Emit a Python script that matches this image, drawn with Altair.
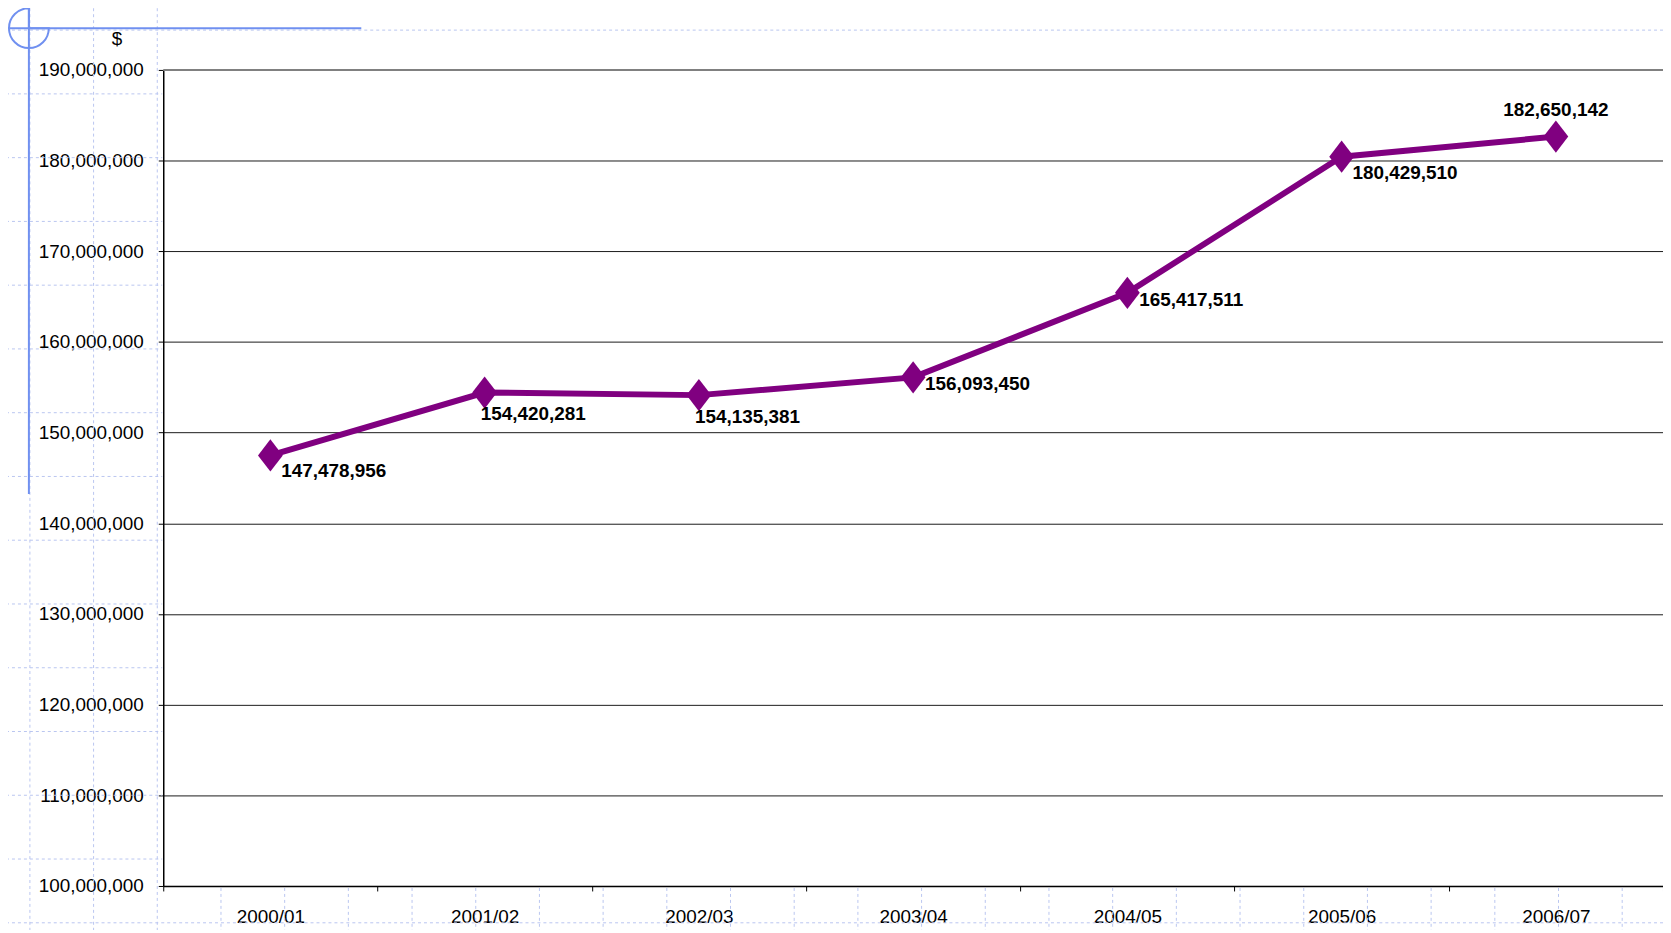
import altair as alt
import pandas as pd

# ---- data ----
years = ["2000/01", "2001/02", "2002/03", "2003/04", "2004/05", "2005/06", "2006/07"]
values = [147478956, 154420281, 154135381, 156093450, 165417511, 180429510, 182650142]
y_ticks = [100000000, 110000000, 120000000, 130000000, 140000000,
           150000000, 160000000, 170000000, 180000000, 190000000]
y_title = "$"

# ---- layout ----
W, H = 1507, 820          # plot area
PAD_L, PAD_T = 156, 60    # page origin of plot = (164, 68)
PAD_B = 42
PURPLE = "#800080"
FONT = "Liberation Sans"
FS = 19
GRIDBG = "#b9c6f0"
CROSS = "#7090f0"

df = pd.DataFrame({"year": years, "value": values})

# decorative slide background (dashed squared paper), in pixel coordinates of the view
segs = []
page_x = [30 + 64 * k for k in range(26)]
page_y = [28 + 64.07 * j for j in range(15)]
for px in page_x:
    vx = px - (PAD_L + 8)
    if vx < 0:
        segs.append({"x": vx, "x2": vx, "y": -68, "y2": 875})
    else:
        segs.append({"x": vx, "x2": vx, "y": H + 2, "y2": 875})
for py in page_y:
    vy = py - (PAD_T + 8)
    if vy < 0 or vy > H:
        segs.append({"x": -164, "x2": W + 10, "y": vy, "y2": vy})
    else:
        segs.append({"x": -164, "x2": -1, "y": vy, "y2": vy})
bg = alt.Chart(alt.Data(values=segs)).mark_rule(
    color=GRIDBG, strokeWidth=1, strokeDash=[3, 3]
).encode(
    x=alt.X("x:Q", scale=None), x2="x2:Q",
    y=alt.Y("y:Q", scale=None), y2="y2:Q",
)

one = alt.Data(values=[{"a": 1}])
cross_h = alt.Chart(one).mark_rule(color=CROSS, strokeWidth=2).encode(
    x=alt.value(-164), x2=alt.value(199), y=alt.value(-42))
cross_v = alt.Chart(one).mark_rule(color=CROSS, strokeWidth=2).encode(
    x=alt.value(-135), y=alt.value(-63), y2=alt.value(426))
cross_arc = alt.Chart(one).mark_arc(
    radius=20, theta=1.5708, theta2=6.2832, filled=False,
    stroke=CROSS, strokeWidth=2
).encode(x=alt.value(-135), y=alt.value(-42))

x_enc = alt.X(
    "year:N", sort=years, bandPosition=0.5, title=None,
    scale=alt.Scale(type="band", paddingInner=0, paddingOuter=0),
    axis=alt.Axis(tickBand="extent", grid=False, domainColor="#000", domainWidth=1.5,
                  tickColor="#000", tickSize=5, labelPadding=17, labelAngle=0,
                  labelFont=FONT, labelFontSize=FS, labelColor="#000"),
)
y_enc = alt.Y(
    "value:Q",
    scale=alt.Scale(domain=[y_ticks[0], y_ticks[-1]], nice=False, zero=False),
    axis=alt.Axis(values=y_ticks, format=",d", grid=True, gridColor="#1a1a1a",
                  gridWidth=1, domainColor="#000", domainWidth=1.5,
                  tickColor="#000", tickSize=5, labelPadding=15,
                  labelFont=FONT, labelFontSize=FS, labelColor="#000",
                  title=y_title, titleAngle=0, titleX=-47, titleY=-32,
                  titleAlign="center", titleBaseline="middle",
                  titleFont=FONT, titleFontSize=FS, titleFontWeight="normal",
                  titleColor="#000"),
)

base = alt.Chart(df)

top_border = alt.Chart(alt.Data(values=[{"value": y_ticks[-1]}])).mark_rule(
    color="#808080", strokeWidth=2
).encode(y=y_enc)

line = base.mark_line(color=PURPLE, strokeWidth=6).encode(x=x_enc, y=y_enc)
pts = base.mark_point(
    shape="M0,-1.3L1,0L0,1.3L-1,0Z", size=620, filled=True, color=PURPLE, opacity=1
).encode(x=x_enc, y=y_enc)


def labels(group, **kw):
    return base.transform_filter(
        alt.FieldOneOfPredicate(field="year", oneOf=group)
    ).mark_text(font=FONT, fontSize=FS, fontWeight="bold", color="#000", **kw).encode(
        x=x_enc, y=y_enc, text=alt.Text("value:Q", format=",d"))


lab_a = labels(["2000/01", "2005/06"], align="left", baseline="middle", dx=11, dy=16)
lab_b = labels(["2001/02", "2002/03"], align="left", baseline="middle", dx=-4, dy=22)
lab_c = labels(["2003/04", "2004/05"], align="left", baseline="middle", dx=12, dy=7)
lab_d = labels(["2006/07"], align="center", baseline="middle", dx=0, dy=-27)

chart = alt.layer(
    bg, cross_h, cross_v, cross_arc, top_border, line, pts, lab_a, lab_b, lab_c, lab_d
).properties(
    width=W, height=H,
    padding={"left": PAD_L, "top": PAD_T, "right": 0, "bottom": PAD_B},
    autosize=alt.AutoSizeParams(type="none"),
    background="white",
).configure_view(stroke="transparent", fill="white")

chart.save("out.html", embed_options={"renderer": "svg", "actions": False})
